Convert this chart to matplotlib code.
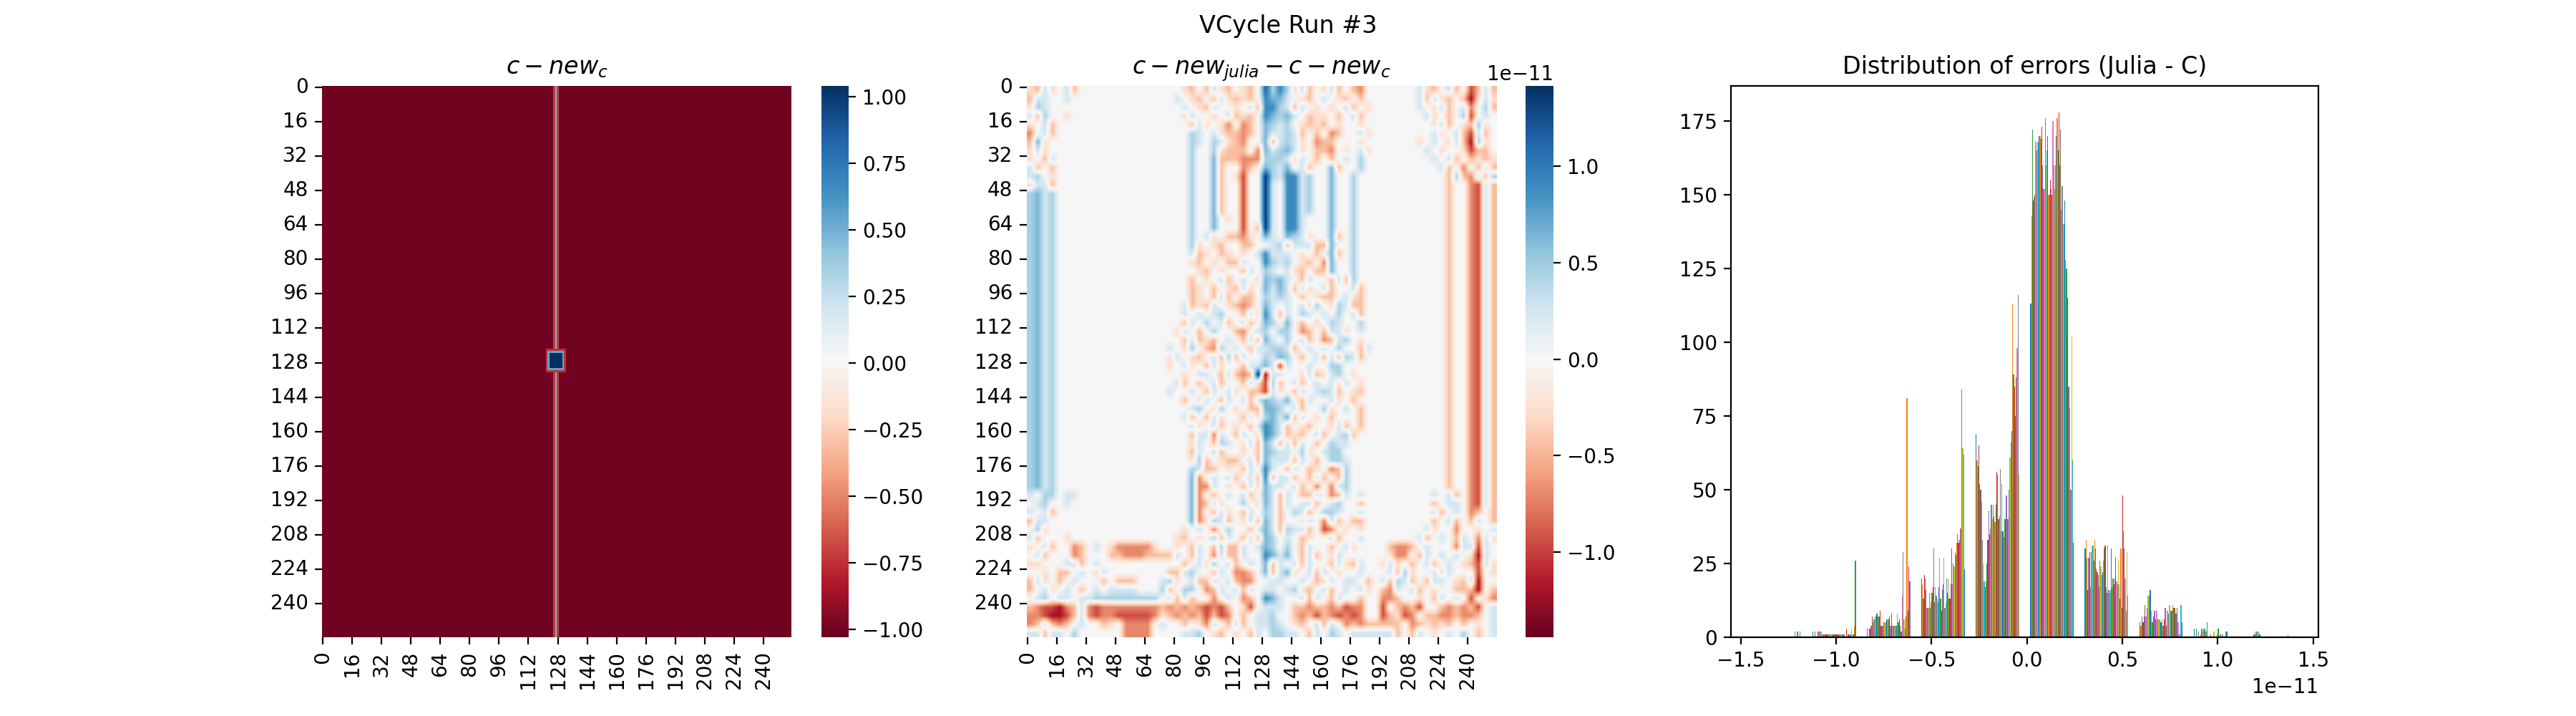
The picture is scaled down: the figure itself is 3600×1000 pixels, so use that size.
import numpy as np
from matplotlib import pyplot as plt

GRID = 256

# left heatmap: everything sits near the minimum, except a thin stripe and a block
c_vmin = -1.03
c_vmax = 1.04
c_background = -1.0
stripe_cols = [126, 127, 128]
stripe_vals = [-0.72, 0.5, -0.72]
block_center = 127
block_half = [5, 4, 3]
block_vals = [-0.75, 0.55, 1.04]

# middle heatmap, read by eye at 4 cell resolution (one letter = 4x4 cells)
levels = {'.': -0.015, 'a': -0.25, 'b': -0.45, 'c': -0.7, 'd': -0.95, 'e': -1.2, 'f': -1.4,
          'A': 0.25, 'B': 0.45, 'C': 0.65, 'D': 0.9, 'E': 1.1, 'F': 1.35}
diff_vmin = -1.44
diff_vmax = 1.415
diff_rows = [
    "abAa .Ab. .... .... .... .ab. bAab .ab. EBDB aAb. aAb. bc.. .... .Aab .Ab. dbAb",
    "bAA. .A.. .... .... .... A.ab .bAa bab. DCCA .ab. A.ab .b.. .... .AbA ab.b eaAa",
    "aBA. .... .... .... .... .A.a bA.. a.Ab DDBA bA.a .a.A b.a. .... .A.a Ab.A c.Bb",
    "AbB. .a.. .... .... .... .aA. .a.A bab. DCBC A.ba a.b. Ab.. .... ..Aa .b.B d.A.",
    "a.Ab .... .... .... .... ..bA a.ac .cb. CBAB .aba b.a. .a.. .... ...a Ab.a bBa.",
    "c.Ab .... .... .... .... ..BA .Aab bcb. CAAB Ab.b .cb. .Aa. .... ...A a.Ab dAb.",
    "bCa. .... .... .... .... ..BA .BAa bc.. CbAB Aa.c bb.. .a.. .... .a.A .aAb eBa.",
    "aAa. .... .... .... .... ..B. .Bab bb.c CABC Aa.b bc.a .Aa. .... ..A. a..a dbb.",
    "a.bA .... .... .... .... ..B. .Cbb bccc BBBA aA.b .b.A .B.. .... ...A .Ab. baba",
    "Ab.b .... .... .... .... ..B. .Cb. .cb. CBAC .Ab. .Cb. .B.. .... .... Ab.c .bAb",
    "AB.a .... .... .... .... ..B. .Cb. ad.. FBAD DAB. .C.. B... .... .... .bBb cAbB",
    "aAAb .... .... .... .... ..B. .Cb. .d.. FA.D DAB. .C.. B... .... .... .b.. cdAb",
    "BCAB .... .... .... .... ..B. .Cb. .d.. FA.D DAB. .C.. B... .... .... .b.. cdAb",
    "BCAB .... .... .... .... ..B. .Cb. .d.. FA.D DAB. .C.. B... .... .... .b.. cdAb",
    "BCAB .... .... .... .... ..B. .Cb. .d.. FA.D DAB. .C.. B... .... .... .b.. cdAb",
    "BCAB .... .... .... .... ..B. .C.a .d.. FA.D DA.. .C.. B... .... .... .b.. cdAb",
    "BCAB .... .... .... .... ..B. .C.. .d.b FA.D DA.. .C.. B... .... .... .b.. cdAb",
    "BCAB .... .... .... .... ..B. Aa.b bca. CA.C BAa. .Cb. B... .... .... .b.. cdAb",
    "BCAB .... .... .... .... ..Ba .ab. .bb. .ABb AAAb bC.. B... .... .... .b.. cdAb",
    "BCAB .... .... .... .... ..Ab a.ba .a.A DAAA .a.b .Cb. B... .... .... .b.. cdAb",
    "BCAB .... .... .... .... ..ab .a.b bA.. DBAB .ab. cC.. B... .... .... .b.. cdAb",
    "BCAB .... .... .... .... ...a b.a. .bA. BA.A ab.b bC.. B... .... .... .b.. cdAb",
    "BCAB .... .... .... .... ..b. a.Ab .A.a CBCA .bA. .bAb B... .... .... .b.. cdAb",
    "BCAB .... .... .... .... ..ba .b.a bAa. CACA bAa. Ab.. Ab.. .... .... .b.. cdAb",
    "BCAB .... .... .... .... ..ba .bAb .bb. BABA .b.a bb.A ab.. .... .... .b.. cdAb",
    "BCAB .... .... .... .... .Aba bA.a bcb. CA.A .AaB .aBA bb.. .... .... .b.. cdAb",
    "BCAB .... .... .... .... .A.A .AB. .bAa DAbA .BA. A.B. Ab.. .... .... .b.. cdAb",
    "BCAB .... .... .... .... .bA. B.Ab .Ab. CB.C .b.a .BA. .B.. .... .... .b.. cdAb",
    "BCAB .... .... .... .... aA.b .B.. bc.A B.BB .cb. bAAa .A.. .... .... .b.. cdAb",
    "BCAB .... .... .... .... .bAb ab.A .bAb CA.B .Ab. cbAB .a.. .... .... .b.. cdAb",
    "BCAB .... .... .... ...A .aB. bcB. A.bA ABBA b.A. A.B. .bA. .... .... .b.. cdAb",
    "BCAB .... .... .... ...a A.ab .AbB bA.. BACB .b.A bAbB Ab.. .... .... .b.. cdAb",
    "BCAB .... .... .... ...a .Aa. bAa. .bAA CAdA ..A. .BB. .... .... .... .b.. cdAb",
    "BCAB .... .... .... .... .a.A A.bA bcbF eAA. .aAb aAB. a... .... .... .b.. cdAb",
    "BCAB .... .... .... .... Ab.b .Ab. .bAa dBb. Ab.A .AaA .a.. .... .... .b.. cdAb",
    "BCAB .... .... .... ...A ..A. bA.A a.bb dAa. bA.A BAb. ab.. .... .... .b.. cdAb",
    "BCAB .... .... .... .... .b.a A.bA .AbA CBAC .bA. .Aa. b... .... .... .b.. cdAb",
    "BCAB .... .... .... .... ..AB .aB. a.bb CCB. Ab.. Ba.A .b.. .... .... .b.. cdAb",
    "BCAB .... .... .... .... .Ab. bAa. .bAa BCAC bA.a .b.. .b.. .... .... .b.. cdAb",
    "BCAB .... .... .... .... ..Aa .Ab. a.bA DCAb .ab. .aAb .b.. .... .... .b.. cdAb",
    "BCAB .... .... .... .... ..bA AcA. bA.a DCAb ab.A b.AB b... .... .... .b.. cdAb",
    "BCAB .... .... .... .... ..aA .bBA .aAb CAbA bA.b .BAA .... .... .... .b.. cdAb",
    "BCAB .... .... .... .... ..bA .Ab. .a.b CBAA .Ba. ABB. .... .... .... .b.. cdAb",
    "BCAB .... .... .... .... ..aB b.ab b.Ab CAAA bA.b .BBA .... .... .... .b.. cdAb",
    "BCAB .... .... .... .... ..BA bb.a .bA. DA.b A.ba .cbB .... .... .... .b.. cdAb",
    "BCAB .... .... .... .... ..Cc .A.A b.Ab DbAA b.bA b.bB .... .... .... .b.. cdAb",
    "BCAB .... .... .... .... ..Cc cA.a .bAa CAA. Ab.c .cAB .... .... .... .b.. cdAb",
    "A.BB .AA. .... .... .... ..Cc .b.A .Ab. CAbA .bbA .cbA .A.. .... ...A .Ab. cdAb",
    ".AB. .A.. .... .... .... ..Cc bAa. .B.a CAbA .AAb .AB. .b.. .... ...b .AA. cdAb",
    "A.Ab .... .... .... .... ..Cc .bAa .bA. BAb. BAb. BBA. .A.. .... ...A b.A. cb.b",
    "bAA. .... .... .... .... ..Cc aBAb .aAb CAb. .aA. cAb. bb.. .... ...b .Ab. bA.b",
    ".Ba. .... .... .... .... .a.A .c.B ..bA CAbB AAb. dc.a .a.. .... ..Aa ..c. .a.A",
    "Ab.. .a.. .... .... .... ab.a .BbA .bAb CB.A .ba. .Ab. .A.. .... .Ab. A.bA .cAa",
    "a.Ab ..cb .A.a cccc ca.. a.bA .bBb bA.A CB.B .bA. .b.A a... .bcc b.A. ..cA AdA.",
    ".Ab. ..cb ...b bccc bbbb A.bA .cAb bA.. DCAC .bAb .aA. .... .acc .bA. A.A. aeA.",
    "aa.. .AAb .A.. .... .... .b.A aB.A b.A. CbA. AbA. .bAa bA.. aAa. b.Ab .A.a bdAa",
    "..a. bb.A .aA. .... ...b bAB. .bA. ccb. CbAC a.Ab A.a. .A.. .AbB a..A aA.. .d.a",
    "bAa. b.A. ..b. bbb. ..AB a.Ab bA.A bcc. .AA. .A.b aA.A A.b. AbBA b.bA A.ab Ae..",
    "b.Aa .A.b .A.A AAA. ..Bb .BB. cbA. AbA. AA.A Bab. Ab.A .Aa. bcA. Ab.a ..bb be.b",
    ".AB. AA.A ABBB BBBB BB.A bAb. .c.A .cb. DCA. .AbA .bA. .b.. ccb. .a.b A.A. d.ac",
    "bcdd ecbA cdcc cccc ccbc bcbc dcdb .ad. AAA. bbcb bcbd cc.. d.bc bd.. bcbc bd.A",
    "ccde edbA cdcc dddd dcab cbcb dbdc .b.A AB.. bcbd bcdc dc.. dbad c.bb ccbc cb.A",
    "cbAb cb.A ..ba .ccc c.A. .b.a cA.b Ab.A ABA. ab.A bA.c bcbb bbb. cbab ab.b .a.A",
    "AAbA A.B. .... .ccc c... .AAB .ab. a.bA .BBA A.bA .BA. AAAA AAb. bA.a .A.B .b.A",
]

# histogram: 10 bins, heights in each bin read left to right from the picture
hist_min = -1.4385e-11
hist_max = 1.4155e-11
bin_heights = [
    [0, 0, 0, 0, 0, 0, 0, 0, 0, 0, 0, 0, 0, 0, 0, 0, 0, 0, 0, 0, 0, 0, 0, 0, 0, 0, 0, 0, 0, 0, 0, 0,
     0, 0, 0, 0, 0, 2, 0, 2, 2, 0, 2, 0],
    [2, 0, 2, 0, 0, 2, 2, 2, 2, 1, 1, 1, 1, 1, 1, 1, 1, 1, 1, 1, 1, 1, 1, 1, 1, 1, 1, 1, 1, 1, 1, 1,
     0, 3, 0, 1, 1, 1, 3, 0, 1, 4, 26],
    [3, 0, 3, 3, 4, 7, 5, 6, 7, 7, 8, 7, 7, 9, 4, 4, 4, 5, 5, 5, 6, 6, 6, 7, 4, 8, 4, 4, 4, 4, 4, 8,
     5, 6, 4, 2, 14, 29, 6, 3, 7, 81, 9, 24, 19],
    [20, 18, 13, 21, 20, 16, 10, 10, 10, 15, 10, 12, 15, 17, 30, 12, 17, 14, 13, 12, 17, 27, 13, 9,
     16, 18, 27, 10, 12, 20, 15, 20, 13, 13, 18, 30, 18, 25, 24, 29, 28, 32, 35, 32, 33, 37, 37, 84,
     64, 62, 23],
    [69, 60, 58, 65, 52, 50, 46, 33, 25, 19, 17, 19, 25, 33, 43, 35, 37, 45, 40, 45, 41, 39, 45, 56,
     55, 40, 41, 57, 36, 52, 36, 34, 40, 40, 48, 40, 40, 50, 61, 66, 70, 113, 89, 85, 75, 88, 98, 116,
     55],
    [113, 143, 172, 148, 149, 150, 168, 165, 168, 168, 170, 170, 169, 173, 160, 152, 152, 176, 160,
     165, 170, 150, 150, 155, 152, 150, 175, 160, 152, 160, 170, 176, 165, 178, 160, 172, 145, 153,
     140, 140, 148, 128, 125, 115, 85, 85, 78, 50, 102, 60, 32],
    [30, 33, 27, 16, 27, 29, 17, 29, 31, 31, 26, 33, 30, 23, 22, 21, 17, 26, 24, 21, 22, 26, 30, 31,
     17, 15, 31, 16, 15, 16, 30, 17, 20, 18, 20, 27, 19, 18, 26, 18, 13, 30, 10, 48, 36, 30, 20, 9,
     29, 14],
    [5, 4, 7, 5, 7, 11, 7, 10, 14, 14, 16, 9, 5, 7, 9, 6, 9, 6, 6, 6, 5, 6, 4, 6, 10, 4, 9, 8, 11, 9,
     9, 11, 10, 10, 8, 10, 5, 1, 1, 11, 5],
    [3, 0, 3, 0, 2, 0, 1, 3, 2, 3, 3, 2, 5, 0, 0, 1, 0, 0, 2, 0, 0, 1, 3, 0, 1, 0, 1, 0, 0, 2, 2, 0,
     0, 0, 0, 0, 0, 0, 0, 0],
    [0, 0, 0, 0, 0, 1, 1, 2, 2, 2, 1, 0, 0, 0, 0, 0, 0, 0, 0, 0, 0, 0, 0, 0, 0, 0, 0, 0, 0, 0, 0, 0,
     0, 0, 0, 0, 1, 0, 0, 0],
]
bar_colors = ['C%d' % i for i in range(10)]


def style_heatmap(ax, title):
    ticks = np.arange(0, GRID, 16)
    ax.set_xticks(ticks + 0.5)
    ax.set_xticklabels(ticks, rotation=90)
    ax.set_yticks(ticks + 0.5)
    ax.set_yticklabels(ticks, rotation=0, va='center')
    ax.set_xlim(0, GRID)
    ax.set_ylim(GRID, 0)
    for spine in ax.spines.values():
        spine.set_visible(False)
    ax.set_title(title)


def left_matrix():
    m = np.full((GRID, GRID), c_background)
    for col, val in zip(stripe_cols, stripe_vals):
        m[:, col] = val
    for half, val in zip(block_half, block_vals):
        m[block_center - half:block_center + half + 1, block_center - half:block_center + half + 1] = val
    return m


def middle_matrix():
    rows = []
    for row in diff_rows:
        row = row.replace(' ', '').ljust(64, '.')[:64]
        rows.append([levels[ch] * 1e-11 for ch in row])
    return np.array(rows)


fig, axes = plt.subplots(1, 3, figsize=(18, 5), dpi=200)
fig.suptitle('VCycle Run #3')

ax = axes[0]
mesh = ax.pcolormesh(left_matrix(), cmap='RdBu', vmin=c_vmin, vmax=c_vmax)
cbar = fig.colorbar(mesh, ax=ax)
cbar.outline.set_visible(False)
style_heatmap(ax, r'$c-new_c$')

ax = axes[1]
im = ax.imshow(middle_matrix(), cmap='RdBu', vmin=diff_vmin * 1e-11, vmax=diff_vmax * 1e-11,
               extent=(0, GRID, GRID, 0), aspect='auto', interpolation='bilinear')
cbar = fig.colorbar(im, ax=ax)
cbar.outline.set_visible(False)
style_heatmap(ax, r'$c-new_{julia}-c-new_c$')

ax = axes[2]
edges = np.linspace(hist_min, hist_max, len(bin_heights) + 1)
bin_width = edges[1] - edges[0]
for left, heights in zip(edges, bin_heights):
    w = 0.8 * bin_width / len(heights)
    xs = left + 0.1 * bin_width + w * (np.arange(len(heights)) + 0.5)
    ax.bar(xs, heights, width=w, linewidth=0,
           color=[bar_colors[i % 10] for i in range(len(heights))])
ax.set_title('Distribution of errors (Julia - C)')

plt.savefig('out.png')
